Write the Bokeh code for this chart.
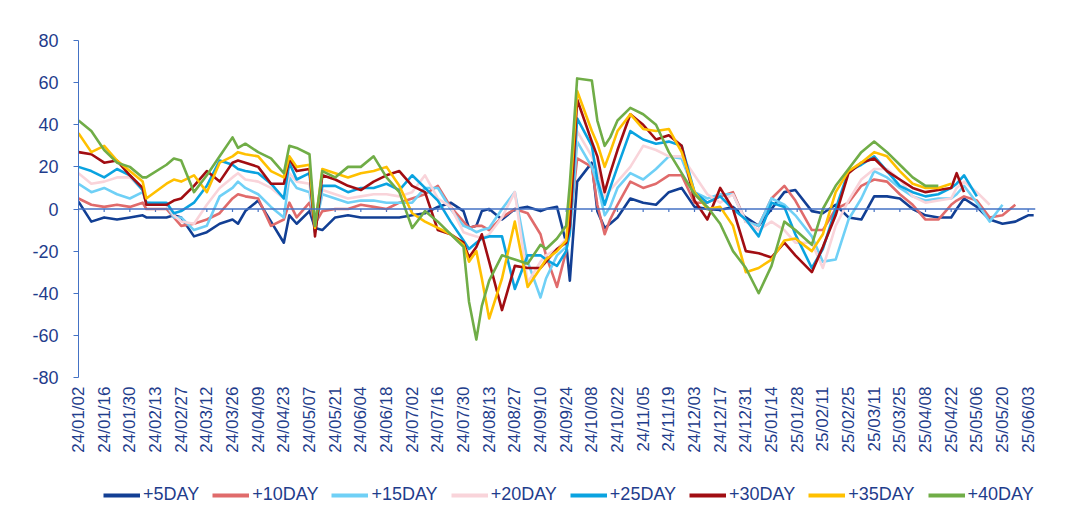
import numpy as np
import pandas as pd
from bokeh.plotting import figure
from bokeh.layouts import column
from bokeh.models import (Range1d, FixedTicker, DatetimeTickFormatter, Span,
                          Legend, LegendItem, ColumnDataSource)
from bokeh.embed import file_html
from bokeh.resources import INLINE

NA = float("nan")

dates = [
    "2024-01-02", "2024-01-09", "2024-01-16", "2024-01-23", "2024-01-30", "2024-02-06", "2024-02-08", "2024-02-19", "2024-02-23", "2024-02-27",
    "2024-03-05", "2024-03-12", "2024-03-19", "2024-03-26", "2024-03-29", "2024-04-02", "2024-04-09", "2024-04-16", "2024-04-23", "2024-04-26",
    "2024-04-30", "2024-05-07", "2024-05-10", "2024-05-14", "2024-05-21", "2024-05-28", "2024-06-04", "2024-06-11", "2024-06-18", "2024-06-25",
    "2024-07-02", "2024-07-09", "2024-07-16", "2024-07-23", "2024-07-30", "2024-08-02", "2024-08-06", "2024-08-09", "2024-08-13", "2024-08-20",
    "2024-08-27", "2024-09-03", "2024-09-10", "2024-09-13", "2024-09-19", "2024-09-24", "2024-09-26", "2024-09-30", "2024-10-08", "2024-10-11",
    "2024-10-15", "2024-10-18", "2024-10-22", "2024-10-29", "2024-11-05", "2024-11-12", "2024-11-19", "2024-11-26", "2024-12-03", "2024-12-10",
    "2024-12-17", "2024-12-24", "2024-12-31", "2025-01-07", "2025-01-14", "2025-01-21", "2025-01-27", "2025-02-05", "2025-02-11", "2025-02-18",
    "2025-02-25", "2025-03-04", "2025-03-11", "2025-03-18", "2025-03-25", "2025-04-01", "2025-04-08", "2025-04-15", "2025-04-22", "2025-04-25",
    "2025-04-29", "2025-05-06", "2025-05-13", "2025-05-20", "2025-05-27", "2025-06-03", "2025-06-06",
]

day5 = [3.5, -6, -4, -5, -4, -3, -4, -4, -3, -4,
        -13, -11, -7, -5, -7, -1, 4, -6, -16, -3,
        -7, -1, -9, -10, -4, -3, -4, -4, -4, -4,
        -3, -2, 1, 3, -1, -9, -8, -1, 0, -5,
        0, 1, -1, 0, 1, -16, -34, 13, 22, -1,
        -9, -7, -4, 5, 3, 2, 8, 10, 1, 0,
        -0.5, 1, -4, -8, 0, 8, 9, -1, -2, 2,
        -4, -5, 6, 6, 5, 0, -3, -4, -4, 0,
        5, 1, -5, -7, -6, -3, -3]

day10 = [5, 2, 1, 2, 1, 3, 0, 0, -4, -8,
         -7, -5, -2, 5, 7, 6, 5, -8, -5, 3,
         -4, 3, -7, -1, 0, 0, 2, 1, 0, 3,
         5, 7, 11, 1, -6, -9, -8, -8, -10, -4,
         0, -2, -12, -22, -37, -20, -7, 24, 20, 2,
         -12, -5, 2, 13, 10, 12, 16, 16, 3, 3,
         6, 8, -6, -8, 5, 11, 4, -10, -10, 0,
         3, 11, 14, 13, 7, 2, -5, -5, 2, 4,
         6, 4, -4, -3, 2, NA, NA]

day15 = [12, 8, 10, 7, 5, 8, 3, 2, -4, -4,
         -10, -8, 6, 10, 13, 10, 7, 1, -4, 15,
         10, 8, -9, 7, 5, 3, 4, 4, 3, 3,
         3, 10, 10, 0, -8, -9, -11, -10, -9, 0,
         8, -25, -42, -33, -22, -18, -12, 32, 20, 12,
         -3, 1, 10, 17, 14, 19, 25, 24, 8, 5,
         7, 7, -6, -8, 5, 2, -3, -13, -25, -24,
         -5, 5, 18, 15, 10, 6, 4, 5, 5, 7,
         11, 3, -6, 2, NA, NA, NA]

day20 = [17, 12, 13, 15, 15, 9, 3, 2, -3, -6,
         -7, 2, 10, 15, 17, 14, 13, 10, 5, 17,
         13, 12, -9, 9, 7, 5, 6, 7, 7, 6,
         8, 16, 5, 1, -11, -12, -13, -14, -12, -4,
         8, -35, -25, -22, -19, -14, -5, 37, 25, 18,
         6, 9, 13, 20, 30, 28, 25, 25, 16, 7,
         3, 7, -6, -10, -6, -10, -16, -16, -28, -8,
         4, 14, 19, 19, 14, 6, 3, 4, 5, 10,
         13, 8, 2, NA, NA, NA, NA]

day25 = [20, 18, 15, 19, 16, 9, 3, 3, -2, -1,
         3, 11, 23, 21, 19, 18, 17, 12, 5, 22,
         14, 17, -11, 11, 11, 8, 10, 10, 12, 9,
         16, 10, 4, -6, -15, -19, -16, -14, -13, -13,
         -38, -22, -22, -24, -27, -20, -11, 43, 30, 14,
         2, 10, 20, 37, 33, 31, 32, 30, 8, 3,
         6, 0, -5, -13, 3, 1, -12, -28, -19, 0,
         18, 21, 25, 18, 11, 8, 6, 7, 10, 12,
         16, 6, NA, NA, NA, NA, NA]

day30 = [27, 26, 22, 23, 16, 10, 2, 2, 4, 5,
         11, 18, 13, 22, 23, 22, 20, 12, 12, 24,
         18, 19, -13, 16, 14, 11, 9, 13, 16, 18,
         11, 8, -10, -12, -16, -23, -18, -12, -25, -48,
         -27, -28, -28, -25, -19, -16, -8, 52, 32, 25,
         8, 17, 28, 45, 40, 33, 35, 30, 4, -5,
         10, 0, -20, -21, -23, -16, -22, -30, -18, -3,
         17, 22, 24, 18, 14, 10, 8, 9, 10, 17,
         8, NA, NA, NA, NA, NA, NA]

day35 = [36, 27, 30, 23, 18, 13, 5, 12, 14, 13,
         16, 8, 22, 25, 27, 26, 25, 18, 15, 25,
         20, 21, -9, 19, 17, 15, 17, 18, 20, 11,
         -2, -6, -9, -12, -17, -25, -20, -33, -52, -33,
         -6, -37, -28, -24, -20, -15, 5, 56, 37, 31,
         20, 27, 37, 45, 38, 37, 38, 27, 8, 0,
         1, -8, -30, -28, -24, -15, -14, -20, -12, 8,
         18, 22, 27, 25, 18, 12, 10, 10, 12, NA,
         NA, NA, NA, NA, NA, NA, NA]

day40 = [42, 37, 28, 22, 20, 15, 15, 21, 24, 23,
         8, 16, 25, 34, 29, 31, 27, 24, 17, 30,
         29, 26, -8, 18, 15, 20, 20, 25, 15, 8,
         -9, -1, -6, -12, -18, -44, -62, -46, -34, -22,
         -24, -26, -17, -19, -14, -8, 12, 62, 61, 42,
         30, 34, 42, 48, 45, 40, 27, 17, 7, 1,
         -7, -20, -28, -40, -27, -6, -10, -17, 0, 11,
         19, 27, 32, 27, 21, 15, 11, 11, NA, NA,
         NA, NA, NA, NA, NA, NA, NA]

series_names = ["+5DAY", "+10DAY", "+15DAY", "+20DAY", "+25DAY", "+30DAY", "+35DAY", "+40DAY"]
series_values = [day5, day10, day15, day20, day25, day30, day35, day40]
series_colors = ["#123f94", "#e06b6b", "#6fd0f6", "#f9d4da", "#0aa3e0", "#a10d12", "#ffc000", "#70ad47"]

tick_dates = ["2024-01-02", "2024-01-16", "2024-01-30", "2024-02-13", "2024-02-27", "2024-03-12", "2024-03-26",
              "2024-04-09", "2024-04-23", "2024-05-07", "2024-05-21", "2024-06-04", "2024-06-18", "2024-07-02",
              "2024-07-16", "2024-07-30", "2024-08-13", "2024-08-27", "2024-09-10", "2024-09-24", "2024-10-08",
              "2024-10-22", "2024-11-05", "2024-11-19", "2024-12-03", "2024-12-17", "2024-12-31", "2025-01-14",
              "2025-01-28", "2025-02-11", "2025-02-25", "2025-03-11", "2025-03-25", "2025-04-08", "2025-04-22",
              "2025-05-06", "2025-05-20", "2025-06-03"]
y_ticks = [-80, -60, -40, -20, 0, 20, 40, 60, 80]
y_tick_labels = ["-80", "-60", "-40", "-20", "0", "20", "40", "60", "80"]

AXIS = "#4472c4"
TEXT = "#1f3d8c"
FONT = "Liberation Sans"

x = pd.to_datetime(dates)
tick_x = pd.to_datetime(tick_dates)
tick_ms = [(t - pd.Timestamp("1970-01-01")) / pd.Timedelta(milliseconds=1) for t in tick_x]

p = figure(frame_width=957, frame_height=337, x_axis_type="datetime",
           x_range=Range1d(pd.Timestamp("2024-01-02"), pd.Timestamp("2025-06-07")),
           y_range=Range1d(-80, 80),
           output_backend="svg", toolbar_location=None,
           min_border_left=78, min_border_right=29, min_border_top=40, min_border_bottom=90)
p.outline_line_color = None
p.xgrid.visible = False
p.ygrid.visible = False
p.background_fill_color = "white"

# y axis
p.yaxis.ticker = FixedTicker(ticks=y_ticks)
p.yaxis.major_label_overrides = {t: s for t, s in zip(y_ticks, y_tick_labels)}
p.yaxis.axis_line_color = AXIS
p.yaxis.major_tick_line_color = AXIS
p.yaxis.major_tick_out = 5
p.yaxis.major_tick_in = 0
p.yaxis.minor_tick_line_color = None
p.yaxis.major_label_text_font = FONT
p.yaxis.major_label_text_font_size = "18px"
p.yaxis.major_label_text_color = TEXT
p.yaxis.major_label_standoff = 15

# x axis (labels only)
p.xaxis.ticker = FixedTicker(ticks=tick_ms)
fmt = "%y/%m/%d"
p.xaxis.formatter = DatetimeTickFormatter(milliseconds=fmt, seconds=fmt, minsec=fmt, minutes=fmt,
                                          hourmin=fmt, hours=fmt, days=fmt, months=fmt, years=fmt,
                                          strip_leading_zeros=False)
p.xaxis.axis_line_color = None
p.xaxis.major_tick_line_color = None
p.xaxis.minor_tick_line_color = None
p.xaxis.major_label_orientation = np.pi / 2
p.xaxis.major_label_text_font = FONT
p.xaxis.major_label_text_font_size = "17px"
p.xaxis.major_label_text_color = TEXT
p.xaxis.major_label_standoff = 3

# zero line with small ticks
p.add_layout(Span(location=0, dimension="width", line_color=AXIS, line_width=1.5))
p.segment(x0=tick_x, y0=0, x1=tick_x, y1=-1.4, line_color=AXIS, line_width=1.2)

for name, vals, col in zip(series_names, series_values, series_colors):
    src = ColumnDataSource(dict(x=x, y=np.array(vals, dtype=float)))
    p.line("x", "y", source=src, line_color=col, line_width=2.6, line_join="round")

# legend strip below the chart
lf = figure(width=1064, height=43, output_backend="svg", toolbar_location=None,
            x_range=Range1d(0, 1), y_range=Range1d(0, 1),
            x_axis_location=None, y_axis_location=None,
            min_border=0, min_border_left=0, min_border_right=0, min_border_top=0, min_border_bottom=0)
lf.outline_line_color = None
lf.xgrid.visible = False
lf.ygrid.visible = False
items = []
for name, col in zip(series_names, series_colors):
    # keys only: points lie outside the visible range of this strip
    r = lf.line(x=[-3, -2], y=[-3, -2], line_color=col, line_width=4)
    items.append(LegendItem(label=name, renderers=[r]))
legend = Legend(items=items, orientation="horizontal", location=(25, 5),
                label_text_font=FONT, label_text_font_size="18px", label_text_color=TEXT,
                glyph_width=37, glyph_height=20, label_standoff=3, spacing=13,
                padding=0, margin=0, border_line_color=None, background_fill_alpha=0)
lf.add_layout(legend, "center")

layout = column(p, lf, spacing=0)
open("out.html", "w").write(file_html(layout, INLINE))
